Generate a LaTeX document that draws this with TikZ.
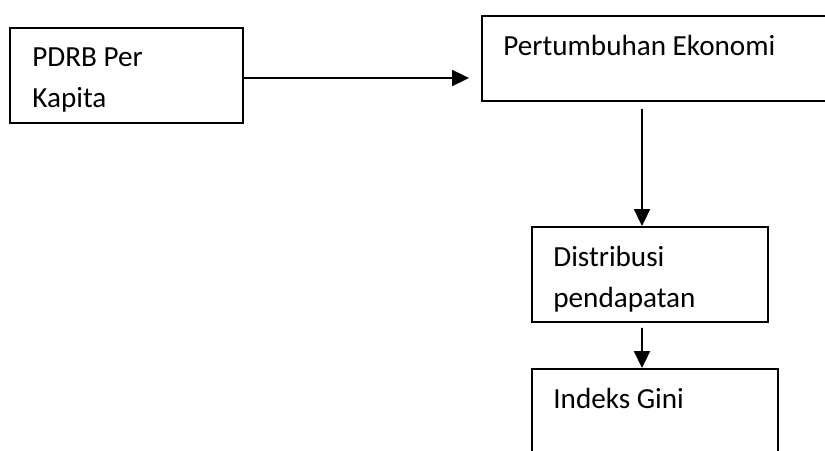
\documentclass[tikz,border=0pt]{standalone}
\usepackage{fontspec}
\setmainfont{Carlito}
\usepackage{tikz}
\usetikzlibrary{positioning,arrows.meta}

\begin{document}
\begin{tikzpicture}[x=0.02cm,y=-0.02cm,
  bx/.style={rectangle,draw,line width=1.1pt,inner sep=0pt},
  tx/.style={anchor=base west,inner sep=0pt,align=left,font=\fontsize{16.6}{22.8}\selectfont},
  ar/.style={-{Triangle[length=0.34cm,width=0.32cm]},line width=1.1pt}]
  \clip (0,0) rectangle (825,450);
  \node[bx,minimum width=4.66cm,minimum height=1.9cm] (pdrb) at (126.5,75.5) {};
  \node[bx,minimum width=7.76cm,minimum height=1.7cm] (ekon) at (676,58.5) {};
  \node[bx,minimum width=4.72cm,minimum height=1.9cm] (dist) at (650,274.5) {};
  \node[bx,minimum width=4.92cm,minimum height=2.22cm] (gini) at (655,424.5) {};
  % base of a two-line node is its last line
  \node[tx] (pdrbtxt) at (32,107) {PDRB Per\\Kapita};
  \node[tx] (ekontxt) at (503,55) {Pertumbuhan Ekonomi};
  \node[tx] (disttxt) at (553,307) {Distribusi\\pendapatan};
  \node[tx] (ginitxt) at (553,408) {Indeks Gini};
  \draw[ar,shorten >=0.24cm] ([yshift=-0.05cm]pdrb.east) -- ([yshift=-0.05cm]pdrb.east -| ekon.west);
  \draw[ar,shorten <=0.14cm] ([xshift=-0.16cm]dist.north |- ekon.south) -- ([xshift=-0.16cm]dist.north);
  \draw[ar,shorten <=0.1cm] ([xshift=-0.16cm]dist.south) -- ([xshift=-0.26cm]gini.north);
\end{tikzpicture}
\end{document}
